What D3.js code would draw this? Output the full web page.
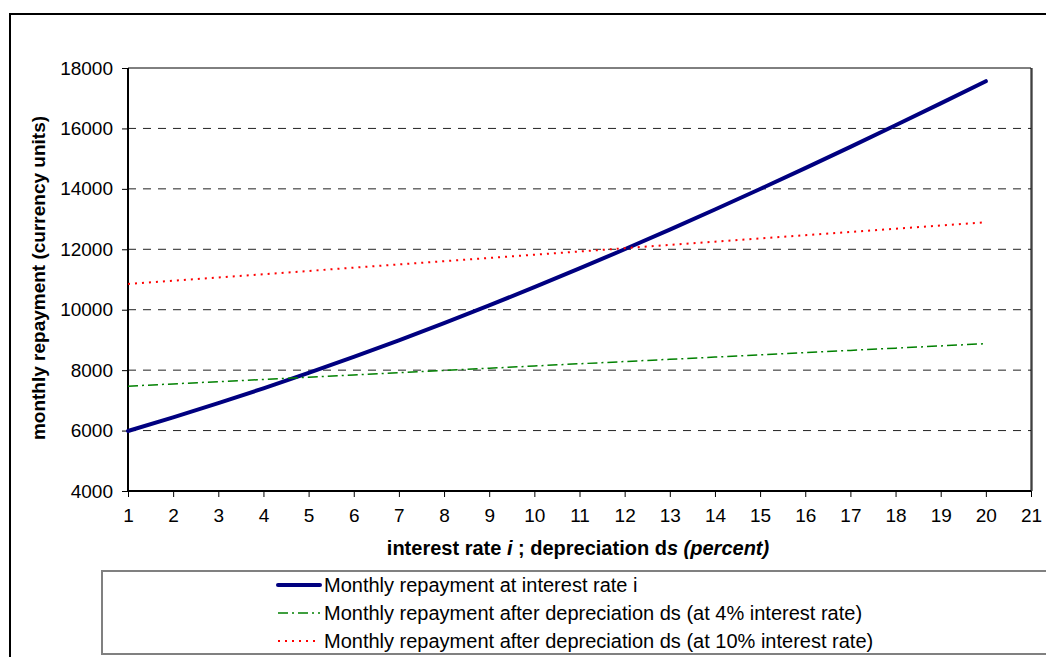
<!DOCTYPE html>
<html>
<head>
<meta charset="utf-8">
<script src="https://cdn.jsdelivr.net/npm/d3@7"></script>
<style>
  html, body { margin: 0; padding: 0; background: #fff; }
  svg { display: block; font-family: "Liberation Sans", Arial, sans-serif; }
</style>
</head>
<body>
<svg id="chart" width="1046" height="657"></svg>
<script>
// Rates / depreciation in percent
const rates = [1,2,3,4,5,6,7,8,9,10,11,12,13,14,15,16,17,18,19,20];
// Monthly repayment at interest rate i
const repaymentAtRate = [5985,6435,6906,7397,7908,8438,8988,9557,10143,10746,
                         11366,12002,12652,13317,13996,14687,15390,16104,16829,17563];
// Monthly repayment after depreciation ds, 4% interest
const repaymentDep4 = [7471,7545,7619,7693,7767,7841,7915,7989,8063,8137,
                       8211,8285,8359,8433,8507,8581,8654,8728,8802,8876];
// Monthly repayment after depreciation ds, 10% interest
const repaymentDep10 = [10853,10961,11068,11176,11283,11391,11498,11606,11713,11821,
                        11928,12036,12143,12250,12358,12465,12573,12680,12788,12895];
const xTicks = d3.range(1, 22);
const yTicks = [4000,6000,8000,10000,12000,14000,16000,18000];
const seriesNames = [
  "Monthly repayment at interest rate i",
  "Monthly repayment after depreciation ds (at 4% interest rate)",
  "Monthly repayment after depreciation ds (at 10% interest rate)"
];

const svg = d3.select("#chart");
const plot = { left: 128, right: 1031, top: 68, bottom: 491 };
const FONT = "'Liberation Sans', Arial, sans-serif";

// outer chart frame
svg.append("rect").attr("x", 10).attr("y", 14).attr("width", 1100).attr("height", 700)
  .attr("fill", "none").attr("stroke", "#000").attr("stroke-width", 2);

const x = d3.scaleLinear().domain([1, 21]).range([plot.left, plot.right]);
const y = d3.scaleLinear().domain([4000, 18000]).range([plot.bottom, plot.top]);

// gridlines
svg.append("g").selectAll("line")
  .data(yTicks.filter(v => v > 4000 && v < 18000))
  .join("line")
  .attr("x1", plot.left).attr("x2", plot.right)
  .attr("y1", d => y(d)).attr("y2", d => y(d))
  .attr("stroke", "#222").attr("stroke-width", 1)
  .attr("stroke-dasharray", "8,7");

// plot frame: top and right
svg.append("line").attr("x1", plot.left).attr("x2", plot.right)
  .attr("y1", plot.top).attr("y2", plot.top).attr("stroke", "#000").attr("stroke-width", 1);
svg.append("line").attr("x1", plot.right + 1).attr("x2", plot.right + 1)
  .attr("y1", plot.top).attr("y2", plot.bottom).attr("stroke", "#808080").attr("stroke-width", 2);
svg.append("line").attr("x1", plot.right).attr("x2", plot.right)
  .attr("y1", plot.top).attr("y2", plot.bottom).attr("stroke", "#000").attr("stroke-width", 1);

// axes
const yAxis = d3.axisLeft(y).tickValues(yTicks).tickSize(6).tickPadding(9).tickFormat(d3.format("d"));
const gy = svg.append("g").attr("transform", `translate(${plot.left},0)`).call(yAxis);
const xAxis = d3.axisBottom(x).tickValues(xTicks).tickSize(6).tickPadding(11.5).tickFormat(d3.format("d"));
const gx = svg.append("g").attr("transform", `translate(0,${plot.bottom})`).call(xAxis);
[gx, gy].forEach(g => {
  g.attr("font-family", FONT).attr("font-size", 19);
  g.select(".domain").attr("stroke", "#000").attr("stroke-width", 2);
  g.selectAll(".tick line").attr("stroke", "#000").attr("stroke-width", 1);
  g.selectAll(".tick text").attr("fill", "#000");
});
gy.select(".domain").attr("d", `M0,${plot.bottom}V${plot.top}`);
gx.select(".domain").attr("d", `M${plot.left},0H${plot.right}`);

// series
const line = d3.line().x((d, i) => x(rates[i])).y(d => y(d));
const styles = [
  { data: repaymentAtRate, color: "#000080", width: 4, dash: null },
  { data: repaymentDep4, color: "#008000", width: 1.5, dash: "10,4,2,4" },
  { data: repaymentDep10, color: "#ff0000", width: 2, dash: "2,5" }
];
styles.forEach(s => {
  svg.append("path").datum(s.data).attr("d", line)
    .attr("fill", "none").attr("stroke", s.color).attr("stroke-width", s.width)
    .attr("stroke-dasharray", s.dash).attr("stroke-linecap", s.dash ? "butt" : "round")
    .attr("stroke-linejoin", "round");
});

// axis titles
const xt = svg.append("text").attr("x", 578).attr("y", 555).attr("text-anchor", "middle")
  .attr("font-size", 20).attr("font-weight", "bold");
xt.append("tspan").text("interest rate ");
xt.append("tspan").attr("font-style", "italic").text("i");
xt.append("tspan").text(" ; depreciation d");
xt.append("tspan").attr("font-style", "italic").text("s (percent)");

svg.append("text").attr("transform", "translate(45,278) rotate(-90)")
  .attr("text-anchor", "middle").attr("font-size", 19).attr("font-weight", "bold")
  .text("monthly repayment (currency units)");

// legend
svg.append("rect").attr("x", 102).attr("y", 571).attr("width", 1000).attr("height", 83)
  .attr("fill", "#fff").attr("stroke", "#808080").attr("stroke-width", 2);
const legRows = [585, 613, 641];
styles.forEach((s, i) => {
  svg.append("line").attr("x1", 278).attr("x2", 320)
    .attr("y1", legRows[i]).attr("y2", legRows[i])
    .attr("stroke", s.color).attr("stroke-width", s.width)
    .attr("stroke-dasharray", s.dash).attr("stroke-linecap", s.dash ? "butt" : "round");
  svg.append("text").attr("x", 324).attr("y", legRows[i] + 7)
    .attr("font-size", 20).attr("fill", "#000").text(seriesNames[i]);
});
</script>
</body>
</html>
